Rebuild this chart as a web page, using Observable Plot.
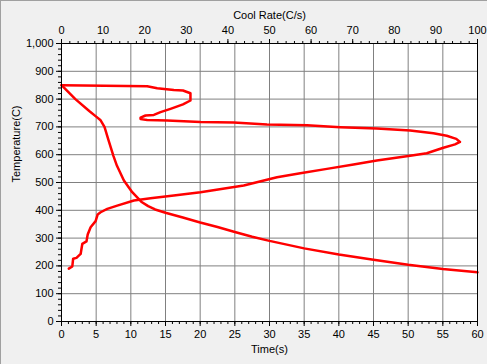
<!DOCTYPE html>
<html>
<head>
<meta charset="utf-8">
<script src="https://cdn.jsdelivr.net/npm/d3@7"></script>
<script src="https://cdn.jsdelivr.net/npm/@observablehq/plot@0.6"></script>
<style>
  html, body { margin: 0; padding: 0; background: #f0f0f0; }
  #wrap { position: relative; width: 487px; height: 364px; overflow: hidden; }
  #edge { position: absolute; left: 0; top: 0; width: 487px; height: 364px; box-sizing: border-box;
          border-top: 1px solid #a0a0a0; border-left: 1px solid #a0a0a0; pointer-events: none; }
</style>
</head>
<body>
<div id="wrap"><div id="edge"></div></div>
<script>
// Temperature vs time
const timeS   = [0, 2, 4, 5, 5.6, 6.2, 6.8, 7.5, 8.0, 9.0, 10.2, 11.5, 12.5, 13.5, 15, 17.5, 20, 22.5, 25, 27.5, 30, 35, 40, 45, 50, 55, 60];
const tempVsTime = [850, 800, 757, 737, 725, 700, 651, 595, 560, 507, 465, 431, 415, 403, 391, 374, 356, 340, 322, 305, 290, 263, 241, 222, 204, 189, 177];

// Temperature vs cool rate
const coolRate = [0, 20.6, 23, 27, 29.2, 31, 31, 29.2, 26.2, 23.8, 22.2, 20.2, 19, 19, 20.6, 25.4, 33.4, 41.4, 49.4, 59, 67, 75.8, 83.8, 89.4, 92.6, 94.9, 95.8, 94.6, 91.8, 87.8, 83.8, 75.8, 70.2, 63.8, 57.4, 51.8, 43.8, 33.4, 27, 21.4, 17.4, 13.4, 11, 9.4, 8.7, 8.2, 7, 6.3, 6, 5, 4.6, 3.6, 2.8, 2.6, 1.75];
const tempVsRate = [850, 846, 839, 833, 831, 821, 795, 781, 765, 753, 743, 741, 733, 728, 725, 723, 718, 716, 709, 706, 699, 694, 687, 677, 668, 657, 646, 637, 625, 605, 596, 579, 565, 549, 533, 519, 489, 465, 453, 443, 435, 417, 405, 393, 385, 361, 339, 313, 288, 279, 243, 229, 226, 198, 190];

// Axis ticks
const timeTicks = d3.range(0, 61, 5);
const timeMinor = d3.range(0, 61, 1);
const rateTicks = d3.range(0, 101, 10);
const rateMinor = d3.range(0, 101, 2);
const tempTicks = d3.range(0, 1001, 100);
const tempMinor = d3.range(0, 1001, 20);

const titles = { bottom: "Time(s)", top: "Cool Rate(C/s)", left: "Temperature(C)" };

const timeMax = 60, rateMax = 100;
const rateToX = r => r * timeMax / rateMax;

const timeData = timeS.map((t, i) => ({x: t, y: tempVsTime[i]}));
const rateData = coolRate.map((r, i) => ({x: rateToX(r), y: tempVsRate[i]}));

const chart = Plot.plot({
  width: 487,
  height: 364,
  marginLeft: 61,
  marginRight: 10,
  marginTop: 43,
  marginBottom: 43,
  style: { background: "#f0f0f0", fontFamily: "'Liberation Sans', Arial, sans-serif", fontSize: "11px", color: "black", overflow: "visible" },
  x: { domain: [0, timeMax] },
  y: { domain: [0, 1000] },
  marks: [
    Plot.frame({ fill: "white" }),
    Plot.gridX(timeTicks.slice(1, -1), { stroke: "#808080", strokeOpacity: 1 }),
    Plot.gridY(tempTicks.slice(1, -1), { stroke: "#808080", strokeOpacity: 1 }),
    Plot.line(timeData, { x: "x", y: "y", stroke: "#ff0000", strokeWidth: 2.5 }),
    Plot.line(rateData, { x: "x", y: "y", stroke: "#ff0000", strokeWidth: 2.5 }),
    Plot.frame({ stroke: "black" }),
    // bottom axis
    Plot.axisX(timeMinor, { anchor: "bottom", tickSize: 3, tickFormat: () => "", label: null }),
    Plot.axisX(timeTicks, { anchor: "bottom", tickSize: 5, tickPadding: 4, label: null, tickFormat: d => String(d) }),
    // top axis (cool rate)
    Plot.axisX(rateMinor.map(rateToX), { anchor: "top", tickSize: 3, tickFormat: () => "", label: null }),
    Plot.axisX(rateTicks.map(rateToX), { anchor: "top", tickSize: 5, tickPadding: 5, label: null,
      tickFormat: d => String(Math.round(d * rateMax / timeMax)) }),
    // left axis
    Plot.axisY(tempMinor, { anchor: "left", tickSize: 3, tickFormat: () => "", label: null }),
    Plot.axisY(tempTicks, { anchor: "left", tickSize: 5, tickPadding: 3, label: null, tickFormat: d3.format(",") }),
    // titles
    Plot.text([titles.bottom], { text: d => d, frameAnchor: "bottom", dy: 28, lineAnchor: "middle", fill: "black" }),
    Plot.text([titles.top], { text: d => d, frameAnchor: "top", dy: -28, lineAnchor: "middle", fill: "black" }),
    Plot.text([titles.left], { text: d => d, frameAnchor: "left", dx: -45, rotate: -90, lineAnchor: "middle", fill: "black" })
  ]
});
document.getElementById("wrap").prepend(chart);
</script>
</body>
</html>
